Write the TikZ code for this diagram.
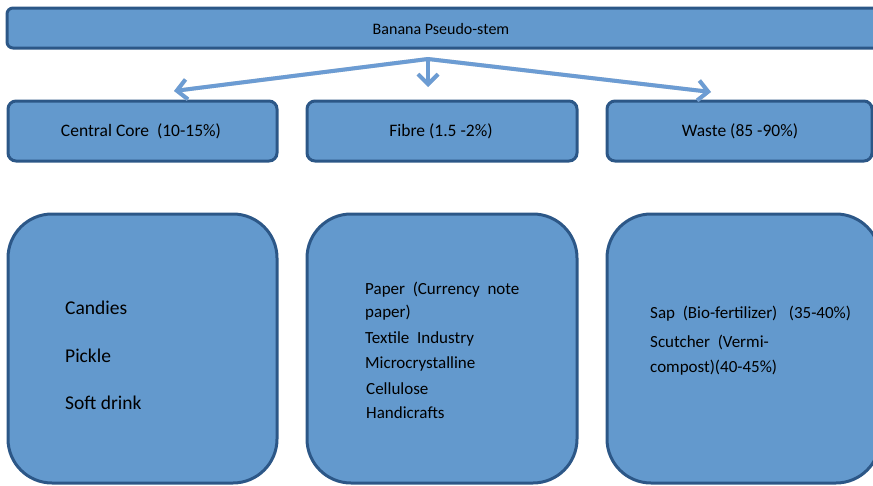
\documentclass[tikz,border=0pt]{standalone}
\usepackage{fontspec}
\setmainfont{Carlito}
\usetikzlibrary{arrows.meta}
\definecolor{boxfill}{HTML}{6399CD}
\definecolor{boxline}{HTML}{2C5787}
\definecolor{arrowblue}{HTML}{6C9CD3}
\tikzset{
  topbar/.style={draw=boxline, fill=boxfill, line width=3pt, rounded corners=6pt},
  midbox/.style={draw=boxline, fill=boxfill, line width=3pt, rounded corners=8pt},
  bigbox/.style={draw=boxline, fill=boxfill, line width=3pt, rounded corners=44pt},
  lbl/.style={inner sep=0pt, font=\fontsize{16}{18}\selectfont},
  item/.style={inner sep=0pt, anchor=base west},
  itemA/.style={item, font=\fontsize{19.5}{22}\selectfont},
  itemB/.style={item, font=\fontsize{17}{20}\selectfont},
  branch/.style={arrowblue, line width=4pt, -{Straight Barb[length=10pt, width=20pt, line width=4pt]}},
  branchshadow/.style={black!30, line width=4pt, -{Straight Barb[length=10pt, width=20pt, line width=4pt]}}
}
\begin{document}
\begin{tikzpicture}[x=1pt, y=-1pt]
  \useasboundingbox (0,0) rectangle (873,485);
  \clip (0,0) rectangle (873,485);

  % top bar
  \draw[topbar] (7,8) rectangle (890,48);
  \node[lbl] (stem) at (441,29) {Banana Pseudo-stem};

  % second row
  \draw[midbox] (8,101) rectangle (277,161);
  \draw[midbox] (307,101) rectangle (577,161);
  \draw[midbox] (607,101) rectangle (872,161);
  \node[lbl, font=\fontsize{17.5}{20}\selectfont] (core) at (141,131) {Central Core~~(10-15\%)};
  \node[lbl, font=\fontsize{17.5}{20}\selectfont] (fibre) at (441,131) {Fibre (1.5 -2\%)};
  \node[lbl, font=\fontsize{17.5}{20}\selectfont] (waste) at (740,131) {Waste (85 -90\%)};

  % branching arrows
  \coordinate (fork) at (428,59);
  \coordinate (tipL) at (174,91);
  \coordinate (tipM) at (428,87);
  \coordinate (tipR) at (711,92);
  \begin{scope}[shift={(2,3)}, opacity=0.5]
    \draw[branchshadow] (fork) -- (tipL);
    \draw[branchshadow] (fork) -- (tipM);
    \draw[branchshadow] (fork) -- (tipR);
  \end{scope}
  \draw[branch] (fork) -- (tipL);
  \draw[branch] (fork) -- (tipM);
  \draw[branch] (fork) -- (tipR);

  % bottom row
  \draw[bigbox] (8,214) rectangle (277,483);
  \draw[bigbox] (307,214) rectangle (577,483);
  \draw[bigbox] (607,214) rectangle (880,483);

  \node[itemA] (candies) at (65,314) {Candies};
  \node[itemA] (pickle) at (65,362) {Pickle};
  \node[itemA] (soft) at (65,409) {Soft drink};

  \node[itemB] (paper) at (365,294) {Paper~ (Currency~ note};
  \node[itemB] (paper2) at (365,317) {paper)};
  \node[itemB] (textile) at (365,343) {Textile~ Industry};
  \node[itemB] (micro) at (365,368) {Microcrystalline};
  \node[itemB] (cellu) at (366,394) {Cellulose};
  \node[itemB] (handi) at (366,418) {Handicrafts};

  \node[itemB] (sap) at (650,318) {Sap~ (Bio-fertilizer)~~ (35-40\%)};
  \node[itemB] (scut) at (650,347) {Scutcher~ (Vermi-};
  \node[itemB] (comp) at (650,372) {compost)(40-45\%)};
\end{tikzpicture}
\end{document}
